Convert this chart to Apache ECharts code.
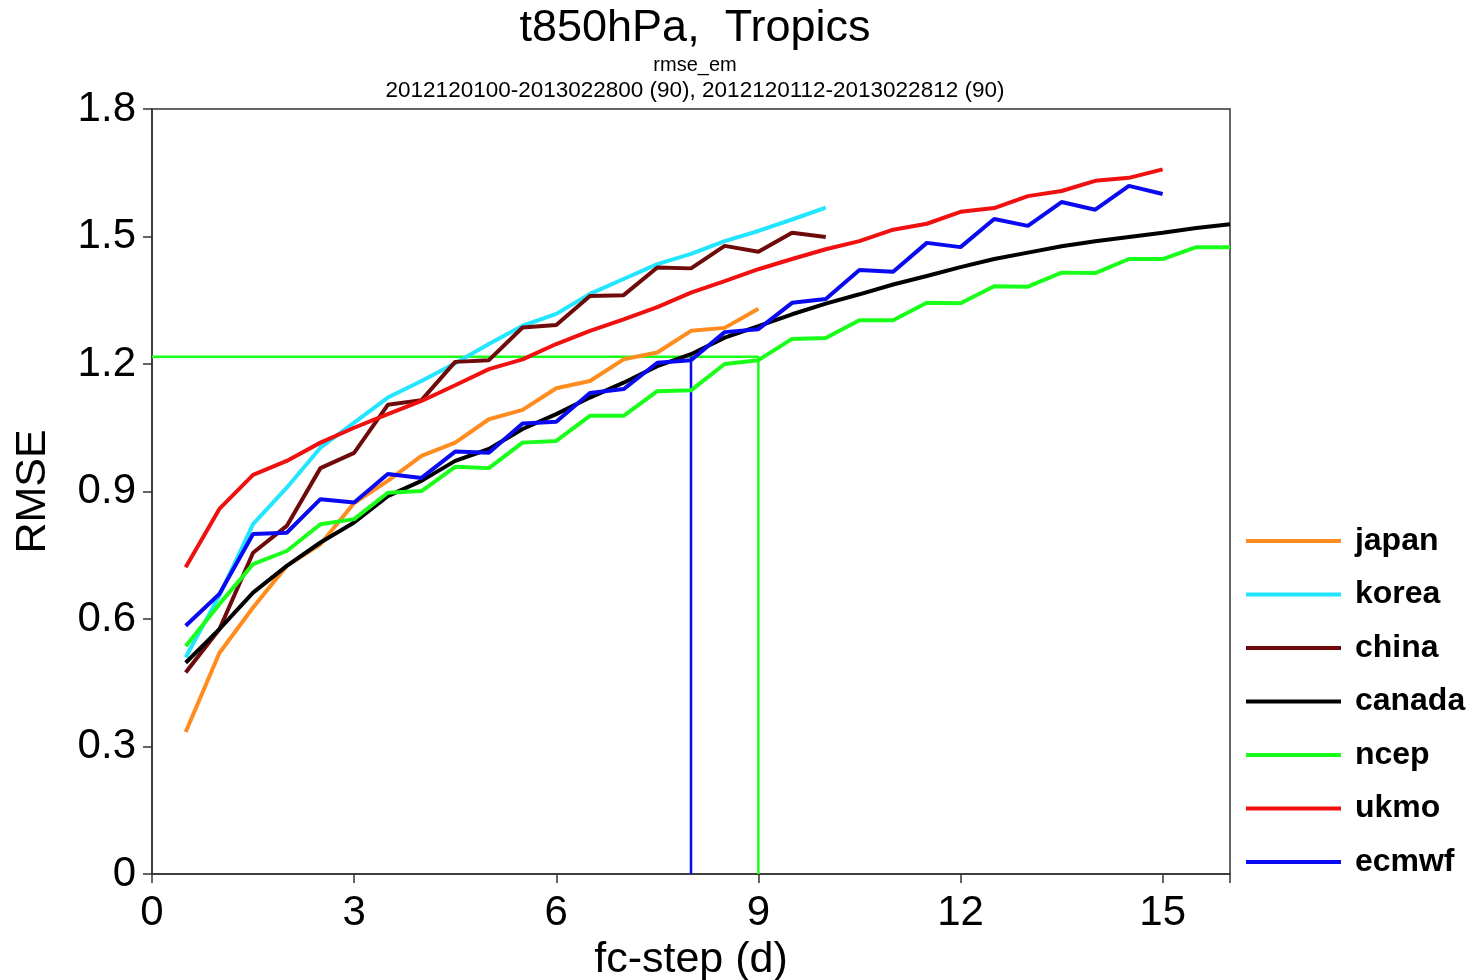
<!DOCTYPE html>
<html>
<head>
<meta charset="utf-8">
<script src="https://cdn.jsdelivr.net/npm/echarts@6/dist/echarts.min.js"></script>
<style>html,body{margin:0;padding:0;background:#fff}#c{width:1477px;height:980px}</style>
</head>
<body>
<div id="c"></div>
<script>
const steps = [0.5,1,1.5,2,2.5,3,3.5,4,4.5,5,5.5,6,6.5,7,7.5,8,8.5,9,9.5,10,10.5,11,11.5,12,12.5,13,13.5,14,14.5,15,15.5,16];
const japan  = [0.334,0.52,0.627,0.725,0.776,0.873,0.925,0.984,1.015,1.07,1.092,1.143,1.16,1.211,1.227,1.278,1.285,1.33];
const korea  = [0.51,0.655,0.823,0.909,1.003,1.062,1.121,1.16,1.202,1.247,1.29,1.318,1.365,1.40,1.435,1.459,1.489,1.513,1.54,1.568];
const china  = [0.474,0.576,0.756,0.819,0.955,0.991,1.104,1.115,1.205,1.209,1.286,1.292,1.36,1.362,1.427,1.425,1.478,1.464,1.509,1.499];
const canada = [0.497,0.576,0.662,0.725,0.78,0.827,0.889,0.925,0.972,1.0,1.047,1.082,1.121,1.156,1.195,1.223,1.262,1.289,1.317,1.342,1.364,1.387,1.407,1.428,1.447,1.462,1.477,1.489,1.499,1.509,1.52,1.529];
const ncep   = [0.536,0.635,0.729,0.76,0.823,0.835,0.897,0.901,0.958,0.955,1.015,1.019,1.078,1.078,1.136,1.138,1.2,1.209,1.259,1.261,1.303,1.303,1.344,1.343,1.383,1.382,1.415,1.414,1.447,1.447,1.475,1.475];
const ukmo   = [0.722,0.859,0.939,0.972,1.015,1.05,1.082,1.113,1.15,1.188,1.211,1.247,1.278,1.305,1.334,1.368,1.395,1.423,1.447,1.47,1.489,1.516,1.53,1.558,1.567,1.595,1.607,1.631,1.638,1.658];
const ecmwf  = [0.584,0.659,0.80,0.803,0.882,0.874,0.941,0.932,0.994,0.991,1.06,1.064,1.132,1.141,1.203,1.209,1.275,1.282,1.344,1.353,1.421,1.417,1.485,1.475,1.541,1.525,1.581,1.563,1.619,1.60];
const names  = ['japan','korea','china','canada','ncep','ukmo','ecmwf'];
const colors = ['#ff8c1e','#22e5ff','#6e0a0a','#000000','#1aff1a','#f01010','#0a0af0'];
const values = [japan,korea,china,canada,ncep,ukmo,ecmwf];
// reference level lines
const refLevel = 1.217;
const ncepRefDay = 9;
const ecmwfRefDay = 8;
const xTicks = [0,3,6,9,12,15];
const yTicks = [0,0.3,0.6,0.9,1.2,1.5,1.8];

const series = values.map((v,i)=>({
  name: names[i], type:'line', showSymbol:false, symbol:'none',
  data: v.map((y,j)=>[steps[j], y]),
  lineStyle:{color:colors[i], width:4}, itemStyle:{color:colors[i]},
  z: 2 + i
}));
series.push({
  name:'ncep_ref', type:'line', showSymbol:false, symbol:'none',
  data:[[0,refLevel],[ncepRefDay,refLevel],[ncepRefDay,0]],
  lineStyle:{color:colors[4], width:2.5}, z:1
});
series.push({
  name:'ecmwf_ref', type:'line', showSymbol:false, symbol:'none',
  data:[[ecmwfRefDay,refLevel],[ecmwfRefDay,0]],
  lineStyle:{color:colors[6], width:2.5}, z:1
});

const chart = echarts.init(document.getElementById('c'), null, {renderer:'canvas'});
chart.setOption({
  animation:false,
  backgroundColor:'#fff',
  textStyle:{fontFamily:'Liberation Sans, Arial, sans-serif'},
  title:[
    {text:'t850hPa,  Tropics', left:690, top:1, textAlign:'center',
     textStyle:{fontSize:45, fontWeight:'normal', color:'#000', fontFamily:'Liberation Sans'}},
    {text:'rmse_em', left:690, top:50, textAlign:'center',
     textStyle:{fontSize:20, fontWeight:'normal', color:'#000', fontFamily:'Liberation Sans'}},
    {text:'2012120100-2013022800 (90), 2012120112-2013022812 (90)', left:690, top:74, textAlign:'center',
     textStyle:{fontSize:22.5, fontWeight:'normal', color:'#000', fontFamily:'Liberation Sans'}}
  ],
  grid:{left:152, top:109, right:247, bottom:106, show:true, borderColor:'#333', borderWidth:1.5,
        containLabel:false, outerBoundsMode:'none'},
  legend:{
    data:names, orient:'vertical', left:1246, top:525, padding:0, itemWidth:95, itemHeight:4, itemGap:21.5,
    icon:'rect',
    formatter:(n)=>' ' + n,
    textStyle:{fontSize:32, fontWeight:'bold', color:'#000', lineHeight:30, fontFamily:'Liberation Sans'},
    selectedMode:false
  },
  xAxis:{
    type:'value', min:0, max:16, interval:3,
    name:'fc-step (d)', nameLocation:'middle', nameGap:63,
    nameTextStyle:{fontSize:43, color:'#000', fontFamily:'Liberation Sans'},
    axisLine:{show:true, onZero:false, lineStyle:{color:'#333', width:1.5}},
    axisTick:{show:true, inside:false, length:9, lineStyle:{color:'#333', width:1.5}},
    axisLabel:{fontSize:42, color:'#000', margin:18, fontFamily:'Liberation Sans',
      formatter:(v)=> xTicks.indexOf(v) >= 0 ? String(v) : ''},
    splitLine:{show:false}
  },
  yAxis:{
    type:'value', min:0, max:1.8, interval:0.3,
    name:'RMSE', nameLocation:'middle', nameGap:97,
    nameTextStyle:{fontSize:43, color:'#000', fontFamily:'Liberation Sans'},
    axisLine:{show:true, lineStyle:{color:'#333', width:1.5}},
    axisTick:{show:true, inside:false, length:9, lineStyle:{color:'#333', width:1.5}},
    axisLabel:{fontSize:42, color:'#000', margin:16, fontFamily:'Liberation Sans',
      formatter:(v)=>{ const t = yTicks.find(a=>Math.abs(a-v)<1e-6); return t===undefined?'':(t===0?'0':t.toFixed(1)); }},
    splitLine:{show:false}
  },
  series: series
});
</script>
</body>
</html>
